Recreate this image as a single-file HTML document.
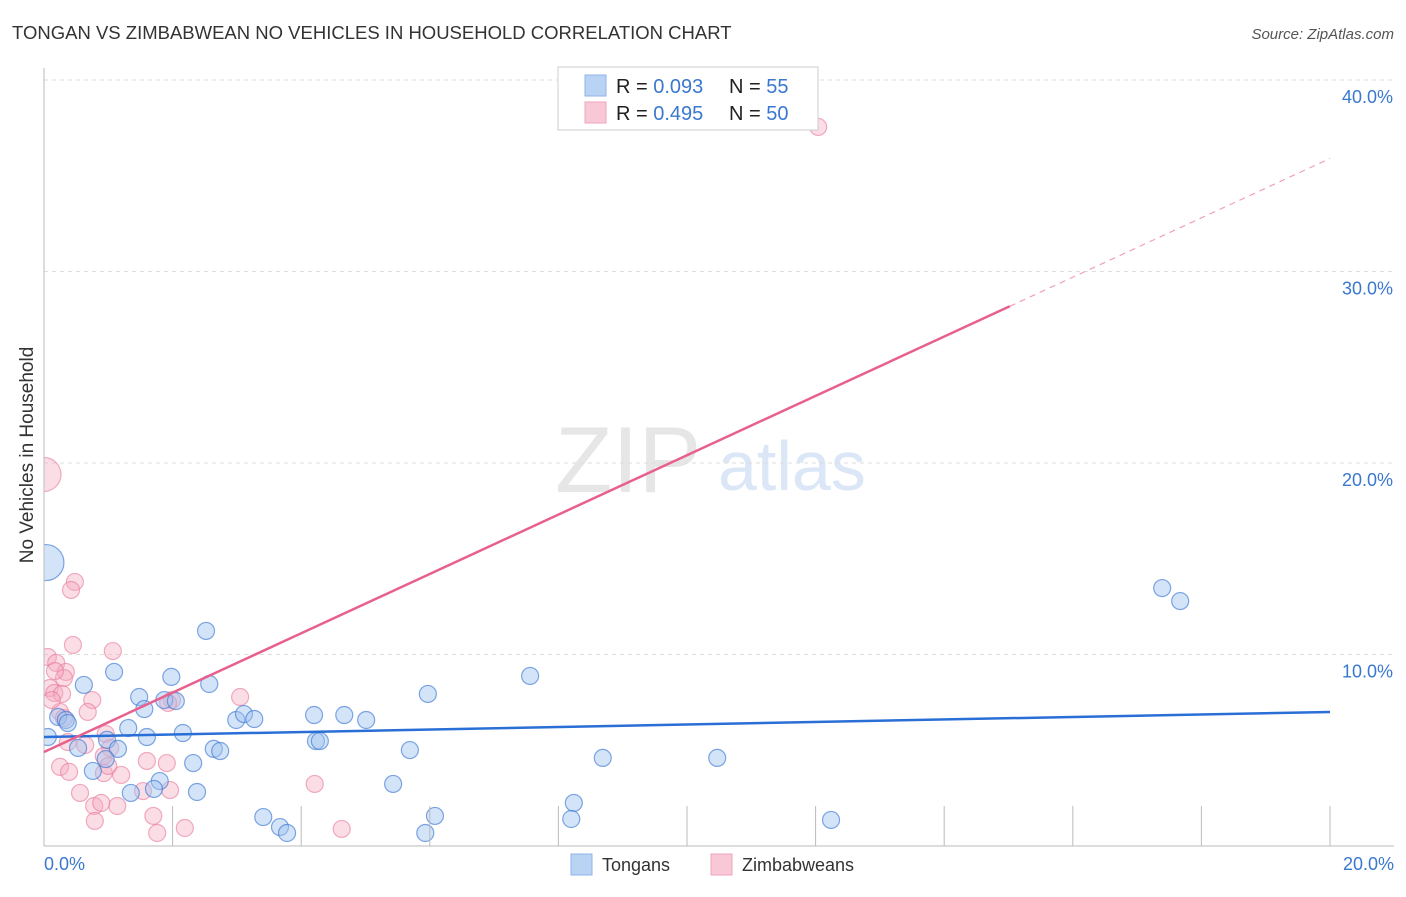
<!DOCTYPE html>
<html><head><meta charset="utf-8"><style>
body{margin:0;background:#fff;font-family:"Liberation Sans",sans-serif}
svg text{font-family:"Liberation Sans",sans-serif}
</style></head><body>
<svg width="1406" height="892">
<text x="12" y="39" font-size="18.5" fill="#333">TONGAN VS ZIMBABWEAN NO VEHICLES IN HOUSEHOLD CORRELATION CHART</text>
<text x="1394" y="39" font-size="15" fill="#555" font-style="italic" text-anchor="end">Source: ZipAtlas.com</text>
<g>
<text x="555" y="492" font-size="94" fill="#e6e6e6" font-family="Liberation Serif">ZIP</text>
<text x="718" y="490" font-size="70" fill="#dbe7f6">atlas</text>
</g>
<g id="grid"></g>
<g id="pts"></g>
<rect x="0" y="60" width="43.5" height="786" fill="#fff"/>
<g id="axes"></g>
<text x="34" y="456" font-size="19" fill="#333" text-anchor="middle" transform="rotate(-90 33 456)">No Vehicles in Household</text>
<g id="lines"></g>
<g>
<rect x="558" y="67" width="260" height="63" fill="#fff" stroke="#ccc"/>
<rect x="585" y="75" width="21" height="21" fill="#b9d3f5" stroke="#8fb3e8"/>
<rect x="585" y="102" width="21" height="21" fill="#f9c8d6" stroke="#eea4bc"/>
<text x="616" y="93" font-size="20" fill="#222">R = <tspan fill="#3a78d0">0.093</tspan></text>
<text x="729" y="93" font-size="20" fill="#222">N = <tspan fill="#3a78d0"> 55</tspan></text>
<text x="616" y="120" font-size="20" fill="#222">R = <tspan fill="#3a78d0">0.495</tspan></text>
<text x="729" y="120" font-size="20" fill="#222">N = <tspan fill="#3a78d0">50</tspan></text>
</g>
<g>
<rect x="571" y="854" width="21" height="21" fill="#b9d3f5" stroke="#8fb3e8"/>
<text x="602" y="871" font-size="18" fill="#333">Tongans</text>
<rect x="711" y="854" width="21" height="21" fill="#f9c8d6" stroke="#eea4bc"/>
<text x="742" y="871" font-size="18" fill="#333">Zimbabweans</text>
</g>
</svg>
<script>
const yTicks=[10,20,30,40];
const yTickLabels=["10.0%","20.0%","30.0%","40.0%"];
const xTicks=[2,4,6,8,10,12,14,16,18,20];
const blueX=[0.03,2.52,1.09,0.62,1.48,1.98,2.57,1.87,2.05,1.56,2.99,3.11,3.27,4.2,4.67,5.01,5.97,7.56,0.22,0.34,0.37,1.31,2.16,0.06,0.98,1.6,1.15,0.53,2.64,2.74,4.23,4.29,5.69,8.69,10.47,2.32,0.96,0.76,1.8,1.71,1.35,2.38,5.43,8.24,8.2,6.08,5.93,3.41,3.67,3.78,12.24,17.39,17.67];
const blueY=[14.8,11.23,9.09,8.41,7.78,8.83,8.46,7.62,7.57,7.15,6.58,6.89,6.63,6.84,6.84,6.58,7.94,8.88,6.74,6.58,6.42,6.16,5.9,5.69,5.54,5.69,5.07,5.12,5.07,4.96,5.48,5.48,5.01,4.6,4.6,4.33,4.54,3.92,3.39,2.98,2.77,2.82,3.24,2.25,1.41,1.57,0.68,1.51,0.99,0.68,1.36,13.47,12.79];
const blueR=[18];
const pinkX=[0,12.04,0.48,0.42,0.45,1.07,0.06,0.19,0.34,0.31,0.09,0.16,0.28,0.75,3.05,1.99,0.68,0.25,0.31,1.93,0.96,0.37,0.64,1.03,0.93,1.6,1.91,0.25,0.39,0.93,1.2,1.0,0.56,0.78,1.14,0.89,1.54,1.96,4.21,0.79,1.7,1.76,2.19,4.63,0.17,0.12];
const pinkY=[19.4,37.55,13.79,13.37,10.5,10.18,9.87,9.56,9.09,8.77,8.25,7.99,7.94,7.62,7.78,7.62,7.0,7.0,6.68,7.47,5.85,5.43,5.27,5.12,4.7,4.44,4.33,4.13,3.87,3.81,3.71,4.18,2.77,2.09,2.09,2.25,2.87,2.92,3.24,1.31,1.57,0.68,0.94,0.89,9.14,7.62];
const blueTrend=[5.69,7.0];
const pinkTrend=[4.91,35.9];
const pinkSolidEnd=15.02;
const NS="http://www.w3.org/2000/svg";
const X=v=>44+v*64.3, Y=v=>846-v*19.15;
function mk(p,t,a){const e=document.createElementNS(NS,t);for(const k in a)e.setAttribute(k,a[k]);p.appendChild(e);return e;}
const grid=document.getElementById('grid'),axes=document.getElementById('axes'),pts=document.getElementById('pts'),lines=document.getElementById('lines');
yTicks.forEach((t,i)=>{
 const l=mk(grid,'line',{x1:44,x2:1394,y1:Y(t),y2:Y(t),stroke:'#ddd','stroke-dasharray':'4,4'});
 
 
 const tx=mk(axes,'text',{x:1393,y:Y(t)+23,'font-size':18,fill:'#3a78d0','text-anchor':'end'});tx.textContent=yTickLabels[i];
 
 
});
const ya=mk(axes,'line',{x1:44,x2:44,y1:68,y2:846,stroke:'#bbb'});


const xa=mk(axes,'line',{x1:44,x2:1394,y1:846,y2:846,stroke:'#bbb'});


xTicks.forEach(t=>{const l=mk(axes,'line',{x1:X(t),x2:X(t),y1:806,y2:846,stroke:'#bbb'});
 
 });
const x0=mk(axes,'text',{x:44,y:870,'font-size':18,fill:'#3a78d0'});x0.textContent='0.0%';


const x1=mk(axes,'text',{x:1394,y:870,'font-size':18,fill:'#3a78d0','text-anchor':'end'});x1.textContent='20.0%';


pinkX.forEach((v,i)=>{const c=mk(pts,'circle',{cx:X(v),cy:Y(pinkY[i]),r:i==0?17:8.5,fill:'rgba(246,170,193,0.4)',stroke:'rgba(232,120,155,0.6)','stroke-width':1.2});
 
 });
blueX.forEach((v,i)=>{const c=mk(pts,'circle',{cx:X(v),cy:Y(blueY[i]),r:i==0?blueR[0]:8.5,fill:'rgba(160,195,240,0.45)',stroke:'rgba(60,120,210,0.65)','stroke-width':1.2});
 
 });
const bl=mk(lines,'line',{x1:X(0),y1:Y(blueTrend[0]),x2:X(20),y2:Y(blueTrend[1]),stroke:'#2a6fd6','stroke-width':2.5});


const pf=v=>pinkTrend[0]+(pinkTrend[1]-pinkTrend[0])*v/20;
const pl=mk(lines,'line',{x1:X(0),y1:Y(pf(0)),x2:X(pinkSolidEnd),y2:Y(pf(pinkSolidEnd)),stroke:'#e8608d','stroke-width':2.5});


const pd=mk(lines,'line',{x1:X(pinkSolidEnd),y1:Y(pf(pinkSolidEnd)),x2:X(20),y2:Y(pf(20)),stroke:'#f0a0b8','stroke-width':1.2,'stroke-dasharray':'6,5'});


</script>
</body></html>
